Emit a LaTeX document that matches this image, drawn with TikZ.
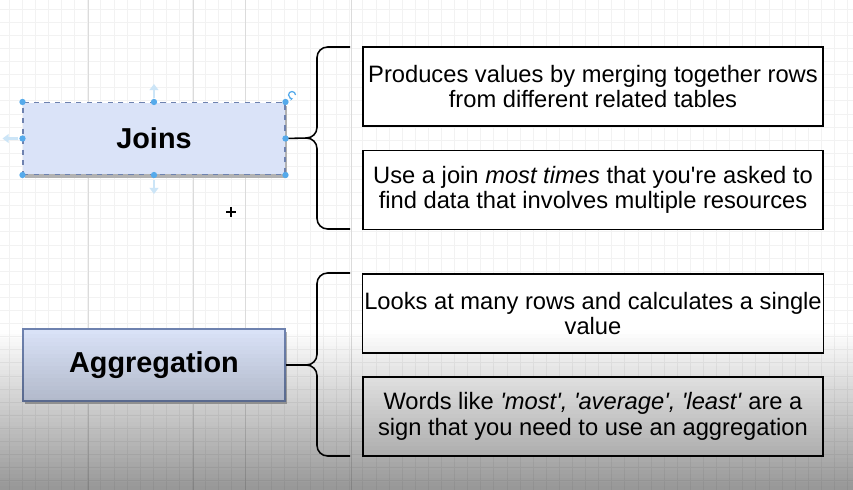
\documentclass[tikz,border=0pt]{standalone}
\usepackage{fontspec}
\setmainfont{Liberation Sans}
\usepackage{xcolor}
\usetikzlibrary{positioning,shadows,arrows.meta}

\definecolor{topicfill}{RGB}{218,227,248}
\definecolor{topicline}{RGB}{110,130,175}
\definecolor{selblue}{RGB}{85,170,235}
\definecolor{hintblue}{RGB}{204,229,247}

\begin{document}
\begin{tikzpicture}[
    x=0.02cm, y=-0.02cm, >=Stealth,
    gridline/.style={draw=black!5, line width=0.3pt},
    gridmajor/.style={draw=black!14, line width=0.5pt},
    topic/.style={rectangle, fill=topicfill, minimum width=5.24cm, minimum height=1.44cm,
      font=\fontsize{16.4}{19}\selectfont\bfseries,
      drop shadow={shadow xshift=1.2pt, shadow yshift=-1.8pt, fill=black!30, opacity=1}},
    note/.style={rectangle, draw, line width=0.9pt, fill=white, minimum width=9.2cm,
      minimum height=1.58cm, inner xsep=1pt, align=center, font=\fontsize{13.5}{14.6}\selectfont},
    brace/.style={line width=0.9pt, rounded corners=6pt},
    hint/.style={draw=hintblue, line width=1.6pt, -{Triangle[width=5pt,length=3.5pt]}}
  ]
    \clip (0,0) rectangle (853,490);
    \fill[white] (0,0) rectangle (853,490);
    \foreach \i in {0,...,65} \draw[gridline] ({9+13.1*\i},0) -- ({9+13.1*\i},490);
    \foreach \j in {0,...,37} \draw[gridline] (0,{9+13.1*\j}) -- (853,{9+13.1*\j});
    \foreach \i in {88,193,245,351} \draw[gridmajor] (\i,0) -- (\i,490);

    \node[topic, draw=topicline, dashed, line width=0.6pt] (joins) at (154,138.5) {Joins};
    \node[topic, draw=topicline, line width=0.8pt] (aggr) at (154,365) {Aggregation};

    \node[note] (merge) at (593,86.5) {Produces values by merging together rows\\from different related tables};
    \node[note] (usejoin) at (593,190) {Use a join \textit{most times} that you\textquotesingle re asked to\\find data that involves multiple resources};
    \node[note] (many) at (593,313.5) {Looks at many rows and calculates a single\\value};
    \node[note] (words) at (593,416.5) {Words like \textit{\textquotesingle most\textquotesingle, \textquotesingle average\textquotesingle, \textquotesingle least\textquotesingle} are a\\sign that you need to use an aggregation};

    \coordinate (jtip) at (307,138);
    \draw[brace] (350,47) -- (317,47) -- (317,138) -- (jtip);
    \draw[brace] (jtip) -- (317,138) -- (317,229) -- (350,229);
    \draw[line width=0.9pt] (joins.east) -- (jtip);

    \coordinate (atip) at (307,365);
    \draw[brace] (350,273) -- (317,273) -- (317,365) -- (atip);
    \draw[brace] (atip) -- (317,365) -- (317,456) -- (350,456);
    \draw[line width=0.9pt] (aggr.east) -- (atip);

    % selection handles
    \draw[hint] ([shift={(0,-4)}]joins.north) -- ([shift={(0,-18)}]joins.north);
    \draw[hint] ([shift={(0,5)}]joins.south) -- ([shift={(0,19)}]joins.south);
    \draw[hint] ([shift={(-4,0)}]joins.west) -- ([shift={(-20,0)}]joins.west);
    \foreach \a in {north west,north,north east,east,south east,south,south west,west}
      \fill[selblue] (joins.\a) circle (1.8pt);
    \draw[selblue, line width=0.7pt, -{Stealth[length=2pt]}] (295.5,95) arc (0:-290:3.5);
    \draw[line width=0.7pt] (226,212) -- (236,212) (231,207) -- (231,217);

    % darkening towards the bottom
    \foreach \k in {0,...,39}
      \fill[black, opacity={0.41*(\k+0.5)/40}] (0,{330+4*\k}) rectangle (853,{334+4*\k});
\end{tikzpicture}
\end{document}
